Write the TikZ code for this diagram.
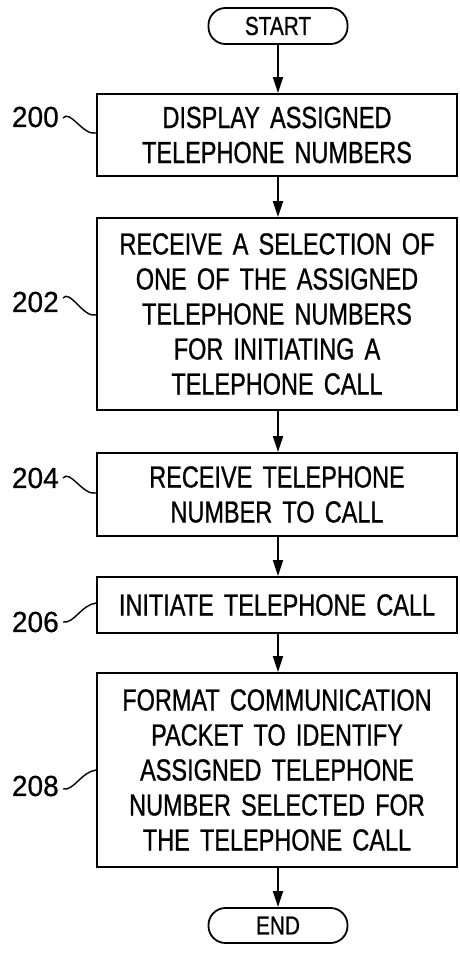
\documentclass[tikz,border=0pt]{standalone}
\usepackage{fontspec}
\setmainfont{Liberation Sans}
\newfontfamily\boxfont[FakeStretch=0.77,FakeBold=0.8]{Liberation Sans}
\newfontfamily\termfont[FakeStretch=0.8,FakeBold=0.8]{Liberation Sans}
\newfontfamily\labfont[FakeStretch=0.97,FakeBold=0.6]{Liberation Sans}
\usetikzlibrary{arrows.meta,calc}

\tikzset{
  stepbox/.style={draw, line width=1.8pt, inner sep=0pt, minimum width=360pt,
    text width=350pt, align=center, font=\boxfont\fontsize{30.5}{35}\selectfont},
  terminal/.style={draw, line width=1.8pt, rounded corners=17pt, inner sep=0pt,
    minimum width=139pt, minimum height=36pt, font=\termfont\fontsize{26}{30}\selectfont},
  flow/.style={line width=1.8pt, -{Triangle[length=16pt,width=10pt]}},
  reflabel/.style={anchor=east, inner sep=2pt, font=\labfont\fontsize{29}{30}\selectfont},
  leader/.style={line width=1.4pt}
}

\begin{document}
\begin{tikzpicture}[x=1pt,y=-1pt]
  \useasboundingbox (0,0) rectangle (459,953);

  % flowchart steps
  \node[terminal] (start) at (278,26) {START};
  \node[stepbox, minimum height=82pt] (b200) at (277,135)
    {DISPLAY ASSIGNED\\TELEPHONE NUMBERS};
  \node[stepbox, minimum height=192pt] (b202) at (277,314)
    {RECEIVE A SELECTION OF\\ONE OF THE ASSIGNED\\TELEPHONE NUMBERS\\FOR INITIATING A\\TELEPHONE CALL};
  \node[stepbox, minimum height=83pt] (b204) at (277,494.5)
    {RECEIVE TELEPHONE\\NUMBER TO CALL};
  \node[stepbox, minimum height=56pt] (b206) at (277,605)
    {INITIATE TELEPHONE CALL};
  \node[stepbox, minimum height=194pt] (b208) at (277,770)
    {FORMAT COMMUNICATION\\PACKET TO IDENTIFY\\ASSIGNED TELEPHONE\\NUMBER SELECTED FOR\\THE TELEPHONE CALL};
  \node[terminal, minimum height=35pt] (end) at (278,925.5) {END};

  % flow arrows
  \draw[flow] (start.south -| 278,0) -- (b200.north -| 278,0);
  \draw[flow] (b200.south -| 278,0) -- (b202.north -| 278,0);
  \draw[flow] (b202.south -| 278,0) -- (b204.north -| 278,0);
  \draw[flow] (b204.south -| 278,0) -- (b206.north -| 278,0);
  \draw[flow] (b206.south -| 278,0) -- (b208.north -| 278,0);
  \draw[flow] (b208.south -| 278,0) -- (end.north -| 278,0);

  % reference numerals
  \node[reflabel] (l200) at (61,117) {200};
  \node[reflabel] (l202) at (61,302) {202};
  \node[reflabel] (l204) at (61,478) {204};
  \node[reflabel] (l206) at (61,622) {206};
  \node[reflabel] (l208) at (61,786) {208};

  % leader lines from numerals to steps
  \draw[leader] ($(l200.east)+(2,1)$) .. controls +(7,-9) and +(-13,3) .. ($(b200.west)+(0,-2)$);
  \draw[leader] ($(l202.east)+(2,-4)$) .. controls +(7,-9) and +(-13,3) .. ($(b202.west)+(0,1)$);
  \draw[leader] ($(l204.east)+(2,0)$) .. controls +(7,-9) and +(-13,3) .. ($(b204.west)+(0,-1.5)$);
  \draw[leader] ($(l206.east)+(2,0)$) .. controls +(11,2) and +(-15,2) .. ($(b206.west)+(0,-2)$);
  \draw[leader] ($(l208.east)+(2,3)$) .. controls +(11,2) and +(-15,2) .. (b208.west);
\end{tikzpicture}
\end{document}
